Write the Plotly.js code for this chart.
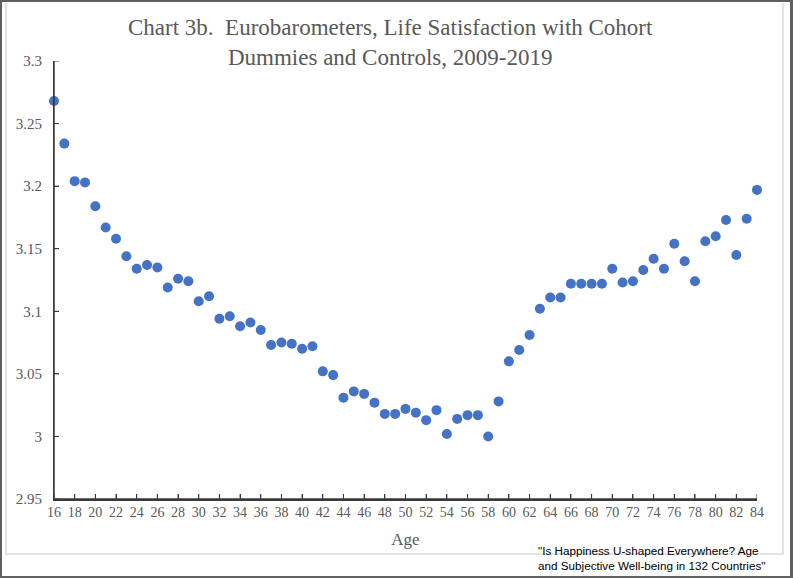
<!DOCTYPE html>
<html>
<head>
<meta charset="utf-8">
<script src="https://cdn.plot.ly/plotly-3.0.1.min.js"></script>
<style>
  html, body { margin: 0; padding: 0; background: #fff; }
  #wrap { position: relative; width: 793px; height: 578px; box-sizing: border-box;
          border-top: 2px solid #606060; border-left: 2px solid #606060;
          border-right: 3px solid #606060; border-bottom: 2px solid #606060; overflow: hidden; }
  #inner { position: absolute; left: 3px; top: 1px; width: 775px; height: 550px;
           border: 2px solid #e3e3e3; border-top: none; pointer-events: none; }
  #chart { position: absolute; left: -2px; top: -2px; width: 793px; height: 578px; }
</style>
</head>
<body>
<div id="wrap">
  <div id="inner"></div>
  <div id="chart"></div>
</div>
<script>
const ages = [16,17,18,19,20,21,22,23,24,25,26,27,28,29,30,31,32,33,34,35,36,37,38,39,40,
  41,42,43,44,45,46,47,48,49,50,51,52,53,54,55,56,57,58,59,60,61,62,63,64,65,66,67,68,69,70,
  71,72,73,74,75,76,77,78,79,80,81,82,83,84];
const lifeSatisfaction = [3.268,3.234,3.204,3.203,3.184,3.167,3.158,3.144,3.134,3.137,3.135,
  3.119,3.126,3.124,3.108,3.112,3.094,3.096,3.088,3.091,3.085,3.073,3.075,3.074,3.070,
  3.072,3.052,3.049,3.031,3.036,3.034,3.027,3.018,3.018,3.022,3.019,3.013,3.021,3.002,
  3.014,3.017,3.017,3.000,3.028,3.060,3.069,3.081,3.102,3.111,3.111,3.122,3.122,3.122,
  3.122,3.134,3.123,3.124,3.133,3.142,3.134,3.154,3.140,3.124,3.156,3.160,3.173,3.145,
  3.174,3.197];
const xTicks = [16,18,20,22,24,26,28,30,32,34,36,38,40,42,44,46,48,50,52,54,56,58,60,62,64,66,68,70,72,74,76,78,80,82,84];
const yTicks = [2.95,3,3.05,3.1,3.15,3.2,3.25,3.3];
const yTickLabels = ["2.95","3","3.05","3.1","3.15","3.2","3.25","3.3"];

const titleText = "Chart 3b.\u00a0 Eurobarometers, Life Satisfaction with Cohort<br>Dummies and Controls, 2009-2019";
const footnote = "\"Is Happiness U-shaped Everywhere? Age<br>and Subjective Well-being in 132 Countries\"";

const serif = "Liberation Serif, Times New Roman, serif";
const grey = "#595959";
const axisColor = "#3a3a3a";

const W = 793, H = 578;
const margin = { l: 54, r: 36, t: 61, b: 79 };
const plotW = W - margin.l - margin.r, plotH = H - margin.t - margin.b;
const tickLen = 5;

const trace = {
  x: ages, y: lifeSatisfaction, type: "scatter", mode: "markers",
  marker: { color: "#4472C4", size: 10 },
  cliponaxis: false, hoverinfo: "x+y"
};

// axis frame lines and inside tick marks (drawn as shapes so they are always painted)
const shapes = [
  { type: "line", xref: "paper", yref: "paper", x0: 0, x1: 1, y0: 0, y1: 0,
    line: { color: axisColor, width: 1.5 }, layer: "above" },
  { type: "line", xref: "paper", yref: "paper", x0: 0, x1: 0, y0: 0, y1: 1,
    line: { color: axisColor, width: 1.5 }, layer: "above" }
].concat(xTicks.map(v => ({
  type: "line", xref: "x", yref: "paper", x0: v, x1: v, y0: 0, y1: tickLen / plotH,
  line: { color: axisColor, width: 1 }, layer: "above"
}))).concat(yTicks.map(v => ({
  type: "line", xref: "paper", yref: "y", x0: 0, x1: tickLen / plotW, y0: v, y1: v,
  line: { color: axisColor, width: 1 }, layer: "above"
})));

const layout = {
  width: W, height: H,
  margin: margin,
  paper_bgcolor: "rgba(0,0,0,0)", plot_bgcolor: "rgba(0,0,0,0)",
  showlegend: false,
  shapes: shapes,
  xaxis: {
    range: [16, 84], tickmode: "array", tickvals: xTicks, ticktext: xTicks.map(String),
    showgrid: false, zeroline: false, showline: true, linecolor: axisColor, linewidth: 1.5,
    ticks: "inside", ticklen: tickLen, tickcolor: axisColor, tickwidth: 1,
    tickfont: { family: serif, size: 14, color: grey },
    title: { text: "Age", font: { family: serif, size: 17, color: grey }, standoff: 14 }
  },
  yaxis: {
    range: [2.95, 3.3], tickmode: "array", tickvals: yTicks,
    ticktext: yTickLabels.map(s => s + "\u00a0\u00a0"),
    showgrid: false, zeroline: false, showline: true, linecolor: axisColor, linewidth: 1.5,
    ticks: "inside", ticklen: tickLen, tickcolor: axisColor, tickwidth: 1,
    tickfont: { family: serif, size: 15, color: grey }
  },
  annotations: [
    {
      text: titleText, xref: "paper", yref: "paper", x: 0.478, y: 1.042,
      xanchor: "center", yanchor: "middle", align: "center", showarrow: false,
      font: { family: serif, size: 23, color: grey }
    },
    {
      text: footnote, xref: "paper", yref: "paper", x: 0.686, y: -0.098,
      xanchor: "left", yanchor: "top", align: "left", showarrow: false,
      font: { family: "Liberation Sans, Arial, sans-serif", size: 11.7, color: "#000" }
    }
  ]
};

Plotly.newPlot("chart", [trace], layout, { staticPlot: true, displayModeBar: false });
</script>
</body>
</html>
